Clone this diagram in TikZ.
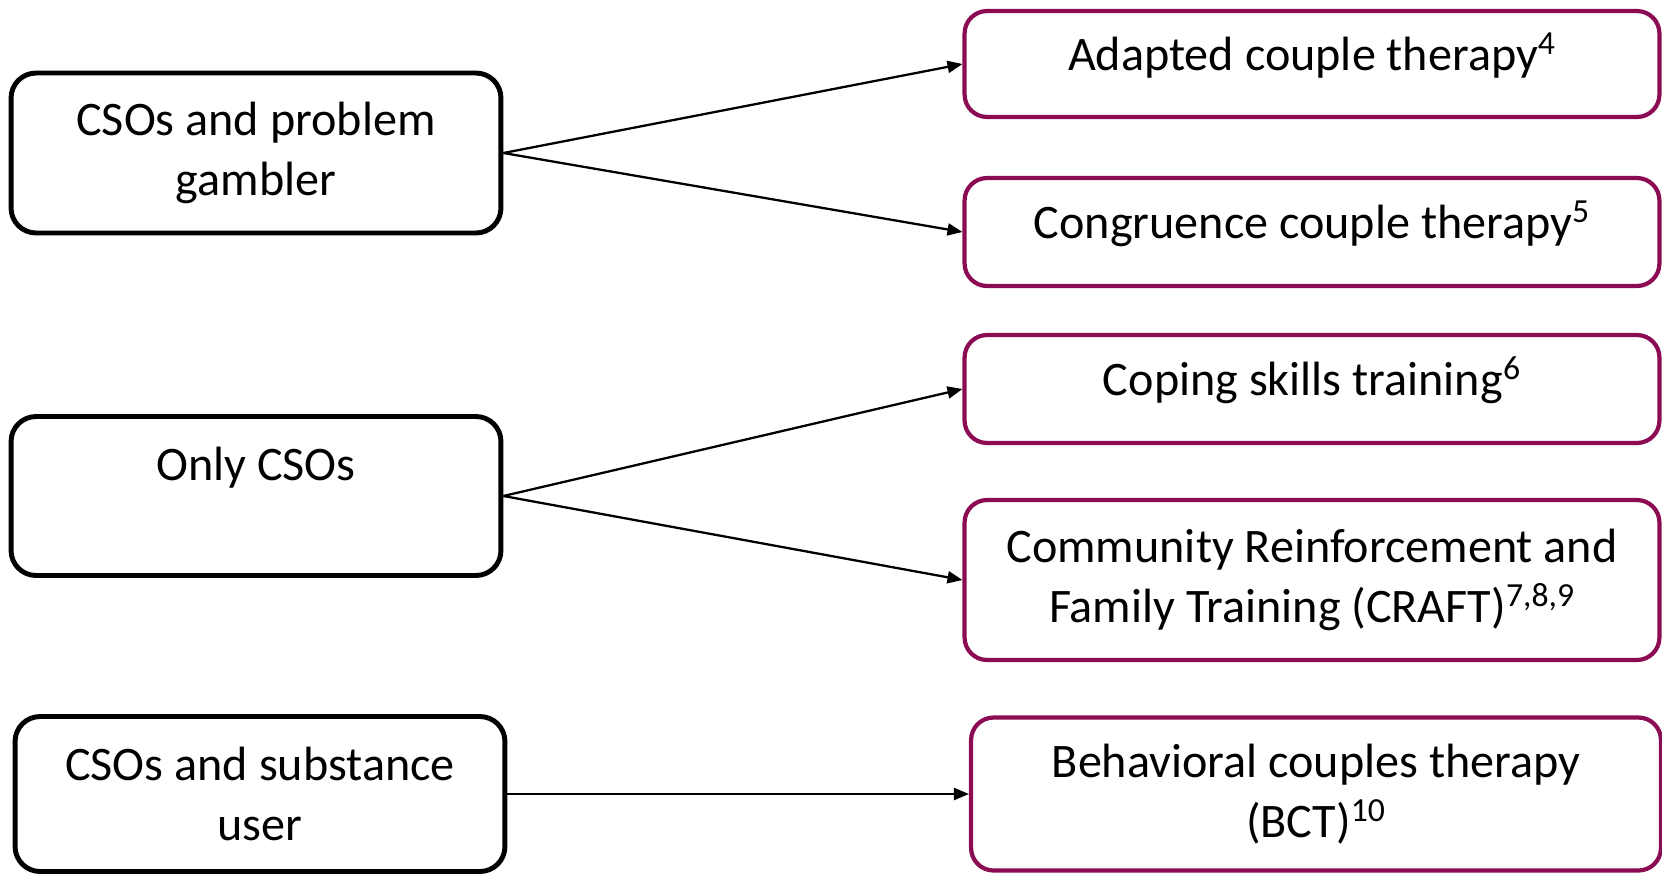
\documentclass[tikz,border=0pt]{standalone}
\usepackage{fontspec}
\setmainfont{Carlito}
\usetikzlibrary{arrows.meta}
\definecolor{berry}{RGB}{140,12,84}

\begin{document}
\begin{tikzpicture}[x=0.02cm,y=-0.02cm,
  who/.style={draw=black, line width=2.8pt, rounded corners=0.5cm, minimum width=9.8cm, align=center, font=\fontsize{27.4}{34}\selectfont},
  therapy/.style={draw=berry, line width=2.4pt, rounded corners=0.45cm, minimum width=13.9cm, align=center, font=\fontsize{27.4}{34}\selectfont},
  oneline/.style={text depth=0.5cm},
  link/.style={line width=1.3pt, -{Triangle[length=0.3cm,width=0.24cm]}}]
\useasboundingbox (0,0) rectangle (1662,873);

% who takes part
\node[who, minimum height=3.2cm] (gambler) at (256,153) {CSOs and problem\\gambler};
\node[who, minimum height=3.18cm, text depth=1.3cm] (only) at (256,496) {Only CSOs};
\node[who, minimum height=3.1cm] (substance) at (260,794) {CSOs and substance\\user};

% therapies, berry frames
\node[therapy, minimum height=2.12cm, oneline] (adapted) at (1312,64) {Adapted couple therapy\textsuperscript{4}};
\node[therapy, minimum height=2.16cm, oneline] (congruence) at (1312,232) {Congruence couple therapy\textsuperscript{5}};
\node[therapy, minimum height=2.16cm, oneline] (coping) at (1312,389) {Coping skills training\textsuperscript{6}};
\node[therapy, minimum height=3.2cm] (craft) at (1312,580) {Community Reinforcement and\\Family Training (CRAFT)\textsuperscript{7,8,9}};
\node[therapy, minimum height=3.06cm, minimum width=13.8cm] (bct) at (1316,794) {Behavioral couples therapy\\(BCT)\textsuperscript{10}};

% arrows
\draw[link] (gambler.east) -- (adapted.west);
\draw[link] (gambler.east) -- (congruence.west);
\draw[link] (only.east) -- (coping.west);
\draw[link] (only.east) -- (craft.west);
\draw[link] (substance.east) -- (bct.west);

\end{tikzpicture}
\end{document}
